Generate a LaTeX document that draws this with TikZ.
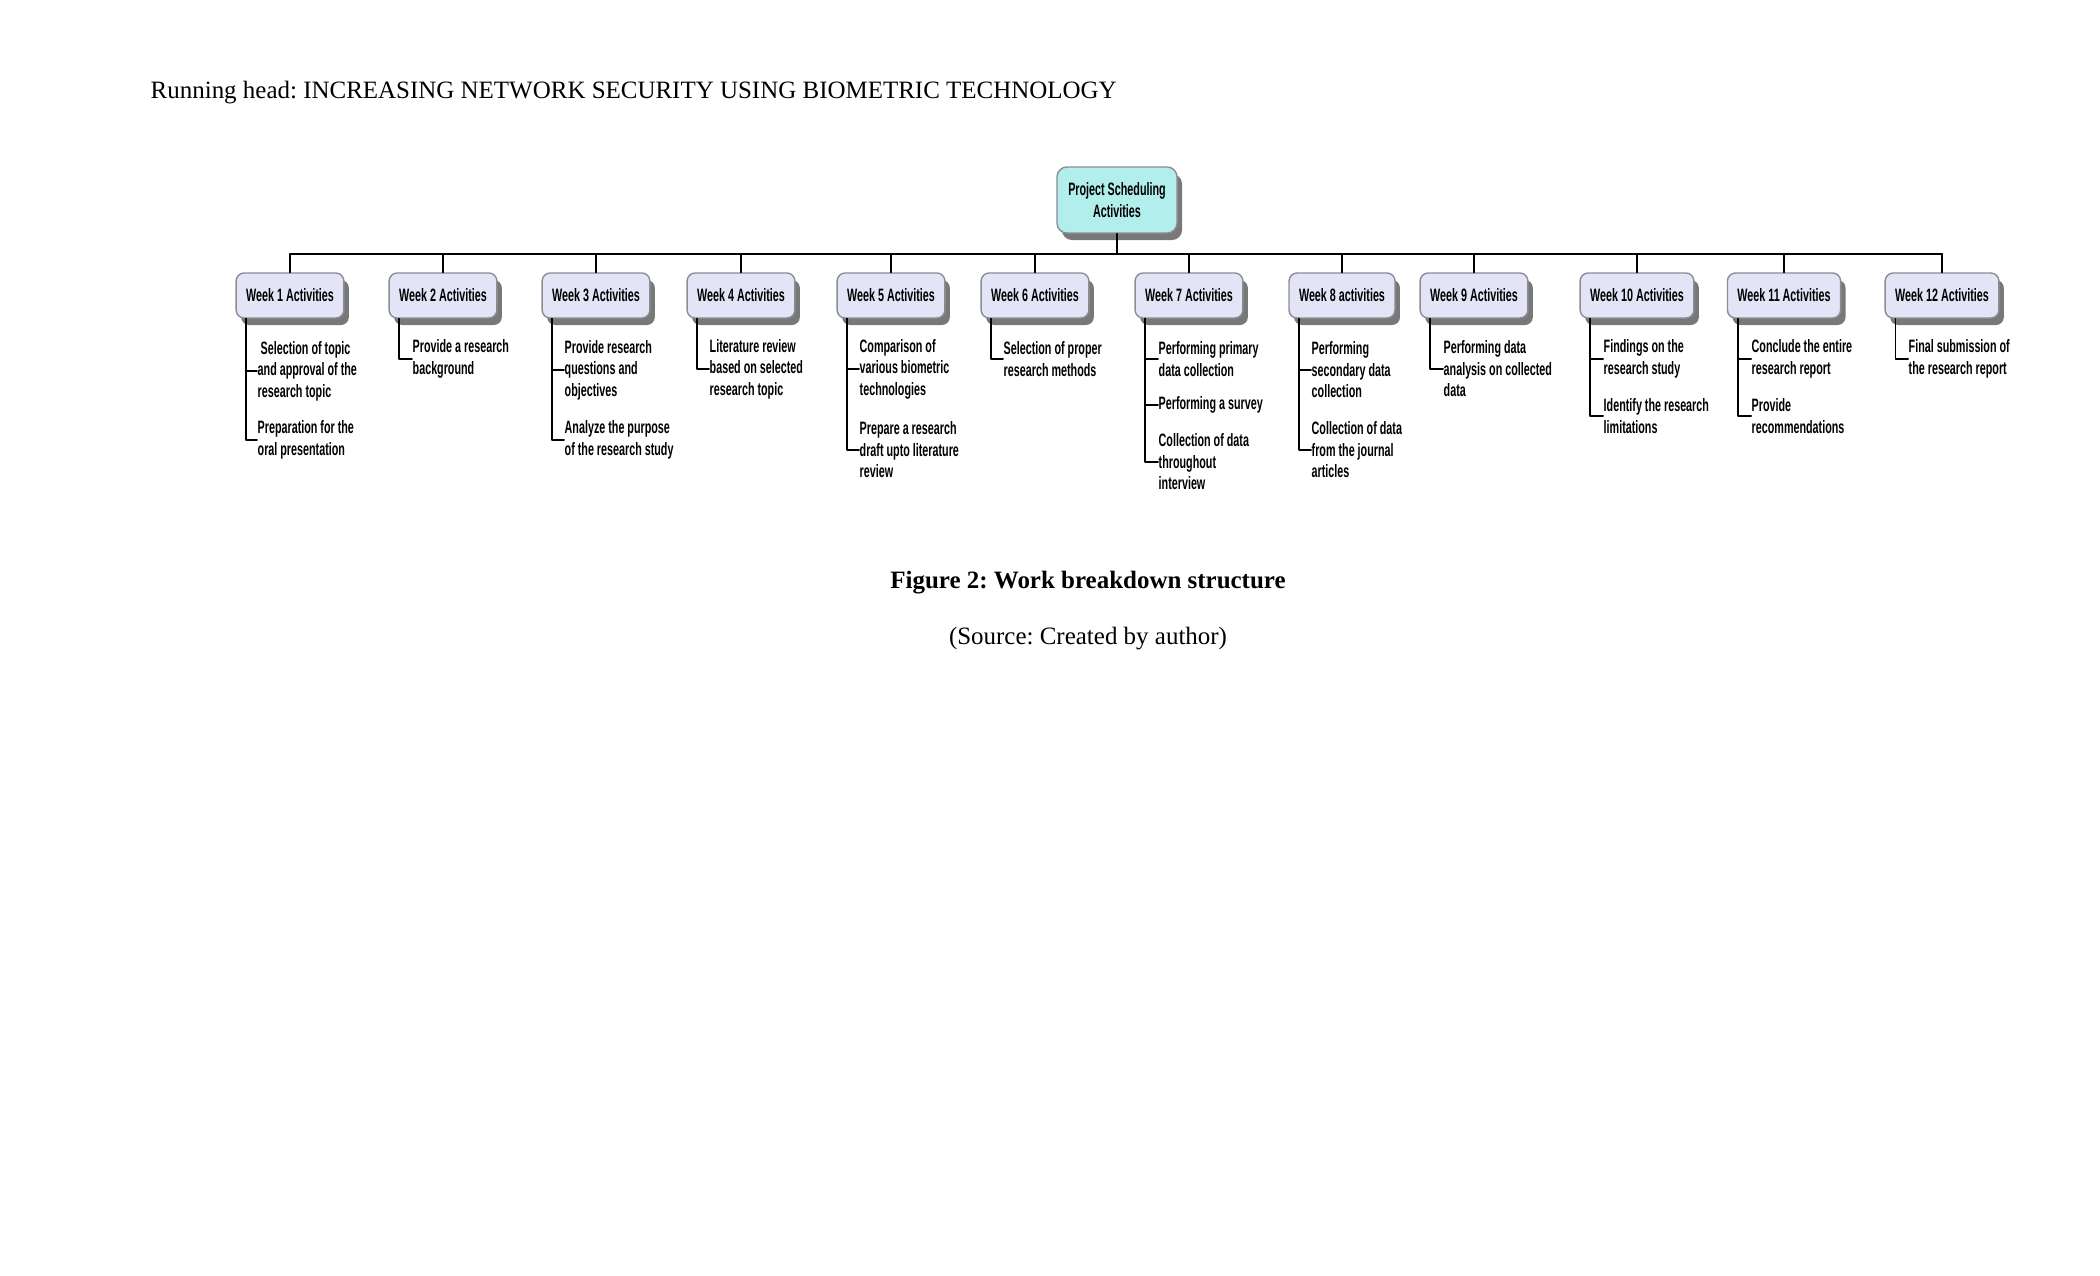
\documentclass[tikz,border=0pt]{standalone}
\usepackage{fontspec}
\setmainfont{Liberation Serif}
\newfontfamily\wbsfont[FakeStretch=0.6]{Liberation Sans Bold}
\usepackage{tikz}
\usetikzlibrary{arrows.meta,calc,positioning,shadows}
\definecolor{wbscyan}{RGB}{178,238,236}
\definecolor{wbslavender}{RGB}{228,228,247}
\definecolor{wbsborder}{RGB}{140,140,150}
\definecolor{wbsshadow}{RGB}{120,120,120}
\newcommand{\wbssize}{\fontsize{5.1}{6.1}\selectfont}
\newcommand{\pagesize}{\fontsize{7.1}{8.5}\selectfont}
\frenchspacing

\begin{document}
\begin{tikzpicture}[x=.01cm,y=-.01cm,line cap=round,line join=round,
 weekbox/.style={draw=wbsborder,fill=wbslavender,rounded corners=.08cm,
  minimum height=.45cm,inner xsep=.1cm,font=\wbsfont\wbssize,
  drop shadow={shadow xshift=.05cm,shadow yshift=-.07cm,fill=wbsshadow,opacity=1}},
 task/.style={anchor=west,align=left,inner sep=0pt,font=\wbsfont\wbssize},
 link/.style={line width=.55pt}]
\useasboundingbox (0,0) rectangle (2100,1275);
% Naglowek strony i podpis rysunku.
\node[anchor=base west,inner sep=0pt,font=\pagesize] (head) at (150,98)
 {Running head: INCREASING NETWORK SECURITY USING BIOMETRIC TECHNOLOGY};
\node[anchor=base,inner sep=0pt,font=\pagesize\bfseries] (caption) at (1088,588)
 {Figure 2: Work breakdown structure};
\node[anchor=base,inner sep=0pt,font=\pagesize] (source) at (1088,644)
 {(Source: Created by author)};
% Korzen i tygodnie.
\node[weekbox,fill=wbscyan,align=center,minimum width=1.2cm,minimum height=.66cm,
 rounded corners=.1cm] (root) at (1117,200) {Project Scheduling\\Activities};
\foreach \i/\x/\t in {1/290/Activities,2/443/Activities,3/596/Activities,
 4/741/Activities,5/891/Activities,6/1035/Activities,7/1189/Activities,
 8/1342/activities,9/1474/Activities,10/1637/Activities,11/1784/Activities,
 12/1942/Activities}
 \node[weekbox] (w\i) at (\x,295.5) {Week \i\ \t};
\coordinate (bus) at (1117,254);
\draw[link] (root.south) -- (bus);
\draw[link] (w1.north |- bus) -- (w12.north |- bus);
\foreach \i in {1,...,12}
 \draw[link] (w\i.north |- bus) -- (w\i.north);
% Zadania w kolejnych tygodniach.
\node[task] (w1a) at (257,371) {\hspace*{.03cm}Selection of topic\\and approval of the\\research topic};
\node[task] (w1b) at (257,440) {Preparation for the\\oral presentation};
\node[task] (w2a) at (412,359) {Provide a research\\background};
\node[task] (w3a) at (564,370) {Provide research\\questions and\\objectives};
\node[task] (w3b) at (564,440) {Analyze the purpose\\of the research study};
\node[task] (w4a) at (709,369) {Literature review\\based on selected\\research topic};
\node[task] (w5a) at (859,369) {Comparison of\\various biometric\\technologies};
\node[task] (w5b) at (859,450) {Prepare a research\\draft upto literature\\review};
\node[task] (w6a) at (1003,359) {Selection of proper\\research methods};
\node[task] (w7a) at (1158,359) {Performing primary\\data collection};
\node[task] (w7b) at (1158,405) {Performing a survey};
\node[task] (w7c) at (1158,462) {Collection of data\\throughout\\interview};
\node[task] (w8a) at (1311,370) {Performing\\secondary data\\collection};
\node[task] (w8b) at (1311,450) {Collection of data\\from the journal\\articles};
\node[task] (w9a) at (1443,369) {Performing data\\analysis on collected\\data};
\node[task] (w10a) at (1603,359) {Findings on the\\research study};
\node[task] (w10b) at (1603,416) {Identify the research\\limitations};
\node[task] (w11a) at (1751,359) {Conclude the entire\\research report};
\node[task] (w11b) at (1751,416) {Provide\\recommendations};
\node[task] (w12a) at (1908,359) {Final submission of\\the research report};
\foreach \w/\t in {w1/w1a,w1/w1b,w2/w2a,w3/w3a,w3/w3b,w4/w4a,w5/w5a,w5/w5b,
 w6/w6a,w7/w7a,w7/w7b,w7/w7c,w8/w8a,w8/w8b,w9/w9a,w10/w10a,w10/w10b,
 w11/w11a,w11/w11b,w12/w12a}
 \draw[link] ([xshift=.11cm]\w.south west) |- (\t.west);
\end{tikzpicture}
\end{document}
